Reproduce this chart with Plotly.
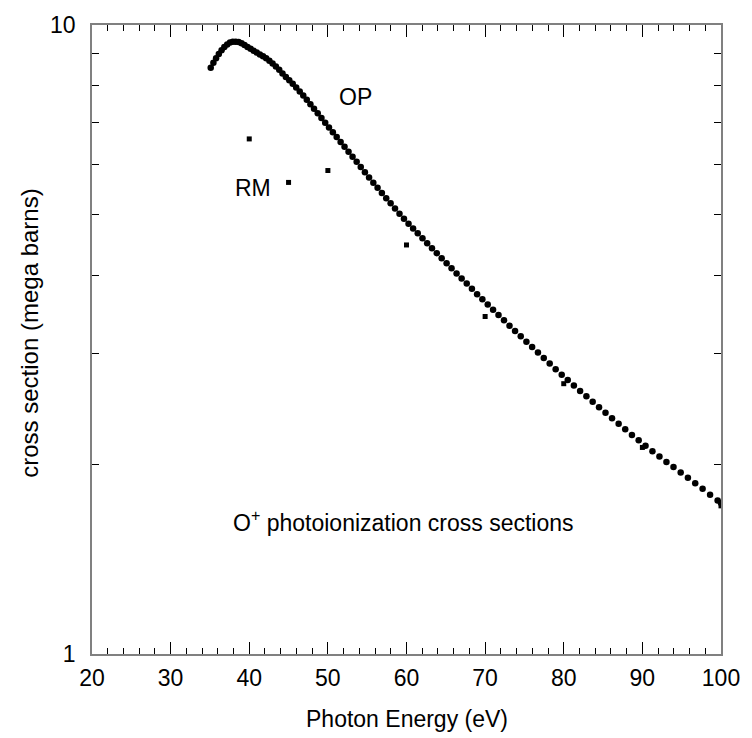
import plotly.graph_objects as go

# OP (Opacity Project) cross sections
op_energy = [35.10, 35.44, 35.78, 36.13, 36.48, 36.83, 37.19, 37.55, 37.91, 38.28,
             38.65, 39.02, 39.40, 39.78, 40.17, 40.56, 40.95, 41.35, 41.75, 42.15,
             42.56, 42.97, 43.39, 43.81, 44.23, 44.66, 45.09, 45.53, 45.97, 46.42,
             46.87, 47.32, 47.78, 48.24, 48.71, 49.18, 49.66, 50.14, 50.63, 51.12,
             51.62, 52.12, 52.63, 53.14, 53.66, 54.18, 54.71, 55.24, 55.78, 56.32,
             56.87, 57.42, 57.98, 58.54, 59.11, 59.68, 60.26, 60.84, 61.43, 62.03,
             62.63, 63.24, 63.85, 64.47, 65.10, 65.73, 66.37, 67.01, 67.66, 68.32,
             68.98, 69.65, 70.33, 71.01, 71.70, 72.40, 73.10, 73.81, 74.53, 75.25,
             75.98, 76.72, 77.46, 78.21, 78.97, 79.74, 80.51, 81.29, 82.08, 82.88,
             83.68, 84.49, 85.31, 86.14, 86.98, 87.82, 88.67, 89.53, 90.40, 91.28,
             92.17, 93.06, 93.96, 94.87, 95.79, 96.72, 97.66, 98.61, 99.57, 100.00]
op_sigma = [8.551, 8.710, 8.852, 8.996, 9.120, 9.226, 9.311, 9.376, 9.404, 9.408,
            9.393, 9.350, 9.294, 9.229, 9.166, 9.103, 9.041, 8.979, 8.917, 8.852,
            8.773, 8.686, 8.592, 8.489, 8.372, 8.270, 8.169, 8.063, 7.954, 7.839,
            7.724, 7.607, 7.485, 7.362, 7.239, 7.117, 6.995, 6.874, 6.755, 6.637,
            6.519, 6.403, 6.287, 6.173, 6.060, 5.947, 5.834, 5.723, 5.614, 5.509,
            5.405, 5.305, 5.205, 5.109, 5.013, 4.922, 4.833, 4.748, 4.665, 4.581,
            4.499, 4.417, 4.337, 4.258, 4.179, 4.103, 4.027, 3.954, 3.881, 3.807,
            3.733, 3.663, 3.594, 3.526, 3.459, 3.392, 3.327, 3.263, 3.199, 3.137,
            3.076, 3.015, 2.955, 2.895, 2.836, 2.780, 2.726, 2.673, 2.620, 2.569,
            2.517, 2.468, 2.419, 2.370, 2.322, 2.276, 2.230, 2.186, 2.143, 2.101,
            2.061, 2.020, 1.982, 1.943, 1.906, 1.869, 1.831, 1.792, 1.754, 1.738]

# RM cross sections
rm_energy = [40, 45, 50, 60, 70, 80, 90, 100]
rm_sigma = [6.59, 5.62, 5.87, 4.47, 3.44, 2.69, 2.13, 1.72]

x_ticks = [20, 30, 40, 50, 60, 70, 80, 90, 100]
y_ticks = [1, 10]
y_tick_text = ["1", "10"]
y_minor = [2, 3, 4, 5, 6, 7, 8, 9]

FONT = "Liberation Sans, Arial, sans-serif"
FS = 23
AXIS_COLOR = "#808080"

# plot area in pixels
L, R, T, B = 92, 728, 19, 654
W, H = 752, 738

fig = go.Figure()
fig.add_trace(go.Scatter(x=op_energy, y=op_sigma, mode="markers", name="OP",
                         marker=dict(symbol="circle", size=6.5, color="black",
                                     line=dict(width=0)),
                         showlegend=False))
fig.add_trace(go.Scatter(x=rm_energy, y=rm_sigma, mode="markers", name="RM",
                         marker=dict(symbol="square", size=5, color="black",
                                     line=dict(width=0)),
                         showlegend=False))

fig.update_layout(
    width=W, height=H,
    margin=dict(l=L, r=W - R, t=T, b=H - B, pad=0),
    paper_bgcolor="white", plot_bgcolor="white",
    font=dict(family=FONT, size=FS, color="black"),
    xaxis=dict(range=[20, 100], tickvals=x_ticks, ticks="inside", ticklen=12,
               tickwidth=1, tickcolor="black", showline=True, linecolor=AXIS_COLOR,
               linewidth=1.5, mirror="ticks", showgrid=False, zeroline=False,
               tickfont=dict(family=FONT, size=FS), ticklabelstandoff=3,
               minor=dict(dtick=2, ticks="inside", ticklen=6, tickwidth=1,
                          tickcolor="black", showgrid=False)),
    yaxis=dict(type="log", range=[0, 1], tickvals=y_ticks, ticktext=y_tick_text,
               ticks="inside", ticklen=12, tickwidth=1, tickcolor="black",
               showline=True, linecolor=AXIS_COLOR, linewidth=1.5, mirror="ticks",
               showgrid=False, zeroline=False, tickfont=dict(family=FONT, size=FS),
               ticklabelstandoff=10,
               minor=dict(tickvals=y_minor, ticks="inside", ticklen=7, tickwidth=1,
                          tickcolor="black", showgrid=False)),
    annotations=[
        dict(text="OP", x=53.46, y=0.8858, xref="x", yref="y", showarrow=False,
             xanchor="center", yanchor="middle"),
        dict(text="RM", x=40.47, y=0.7402, xref="x", yref="y", showarrow=False,
             xanchor="center", yanchor="middle"),
        dict(text="O<sup>+</sup> photoionization cross sections", x=37.7, y=0.211,
             xref="x", yref="y", showarrow=False, xanchor="left", yanchor="middle"),
        dict(text="Photon Energy (eV)", x=0.5, y=-(720 - B) / (B - T),
             xref="paper", yref="paper", showarrow=False, xanchor="center",
             yanchor="middle"),
        dict(text="cross section (mega barns)", x=-(L - 28) / (R - L),
             y=(B - 330) / (B - T), xref="paper", yref="paper", showarrow=False,
             textangle=-90, font=dict(size=24), xanchor="center",
             yanchor="middle"),
    ],
)

fig.write_html("out.html")
